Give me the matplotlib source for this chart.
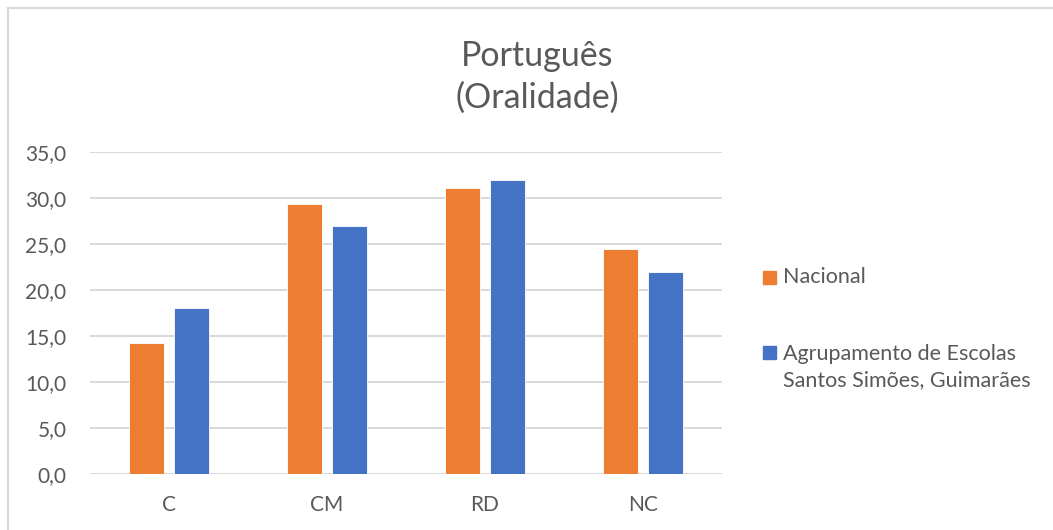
import numpy as np
import matplotlib
matplotlib.use("Agg")
import matplotlib.pyplot as plt
from matplotlib.lines import Line2D
from matplotlib.patches import Rectangle

categories = ["C", "CM", "RD", "NC"]
nacional = [14.2, 29.4, 31.1, 24.5]
agrupamento = [18.0, 27.0, 32.0, 22.0]
series_labels = ["Nacional", "Agrupamento de Escolas\nSantos Simões, Guimarães"]
yticks = [0, 5, 10, 15, 20, 25, 30, 35]

ORANGE = "#ED7D31"
BLUE = "#4472C4"
GRID = "#D9D9D9"
TXT = "#595959"

plt.rcParams['font.family'] = ['Lato', 'DejaVu Sans']

W, H = 1053, 530
fig = plt.figure(figsize=(W / 100, H / 100), dpi=100)
ax = fig.add_axes([90 / W, 1 - 474 / H, 632 / W, 322 / H])

x = np.arange(len(categories))
bw = 0.22
off = 0.142
ax.bar(x - off, nacional, bw, color=ORANGE, edgecolor="white", linewidth=0.6, zorder=3)
ax.bar(x + off, agrupamento, bw, color=BLUE, edgecolor="white", linewidth=0.6, zorder=3)

ax.set_xlim(-0.5, len(categories) - 0.5)
ax.set_ylim(0, 35)
ax.set_yticks(yticks)
ax.set_yticklabels([f"{v:.1f}".replace(".", ",") for v in yticks])
ax.set_xticks(x)
ax.set_xticklabels(categories)
ax.yaxis.grid(True, color=GRID, linewidth=1.4, zorder=0)
ax.tick_params(axis="both", length=0, labelsize=15, labelcolor=TXT)
ax.tick_params(axis="y", pad=17)
ax.tick_params(axis="x", pad=15)
for s in ax.spines.values():
    s.set_visible(False)

# title
fig.text(537 / W, 1 - 77 / H, "Português\n(Oralidade)", ha="center", va="center",
         fontsize=24.5, color=TXT, linespacing=1.38)

# legend by hand: square next to the first line of each label
leg_y = [277, 352]        # pixel centre of the first text line
for col, lab, yc in zip([ORANGE, BLUE], series_labels, leg_y):
    fig.add_artist(Rectangle((763 / W, 1 - (yc + 6.5) / H), 13 / W, 13 / H,
                             transform=fig.transFigure, color=col))
    nlines = lab.count("\n") + 1
    fig.text(783 / W, 1 - (yc + 15 * (nlines - 1)) / H, lab, ha="left", va="center",
             fontsize=15.5, color=TXT, linespacing=1.4)

# chart area border (left and top edges visible)
fig.add_artist(Line2D([7.5 / W, 7.5 / W], [0, 1 - 7.5 / H], color=GRID, linewidth=1.5,
                      transform=fig.transFigure))
fig.add_artist(Line2D([7.5 / W, 1], [1 - 7.5 / H, 1 - 7.5 / H], color=GRID, linewidth=1.5,
                      transform=fig.transFigure))

fig.savefig("out.png", dpi=100)
